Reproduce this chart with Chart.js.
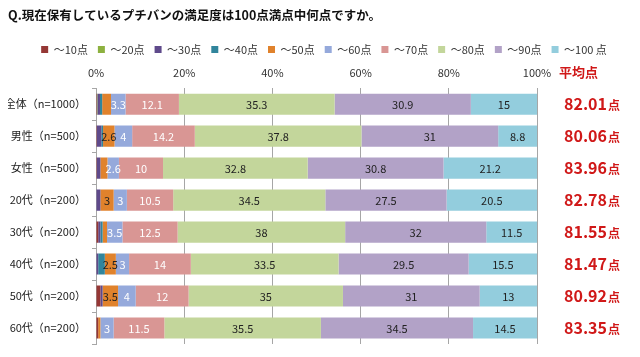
<!DOCTYPE html>
<html><head><meta charset="utf-8">
<script src="https://cdn.jsdelivr.net/npm/chart.js@4/dist/chart.umd.min.js"></script>
<style>html,body{margin:0;padding:0;background:#fff;}canvas{display:block;}</style>
</head><body>
<canvas id="c" width="640" height="357"></canvas>
<script>
const categories = ['全体（n=1000）','男性（n=500）','女性（n=500）','20代（n=200）','30代（n=200）','40代（n=200）','50代（n=200）','60代（n=200）'];
const seriesLabels = ['～10点','～20点','～30点','～40点','～50点','～60点','～70点','～80点','～90点','～100 点'];
const s10  = [0.2, 0.2, 0.2, 0,   0.5, 0,   1.0, 0.5];
const s20  = [0.1, 0,   0,   0,   0,   0,   0,   0];
const s30  = [0.6, 1.0, 0.8, 1.0, 0.5, 0.5, 0.5, 0];
const s40  = [0.5, 0.4, 0,   0,   0.5, 1.5, 0,   0];
const s50  = [2.0, 2.6, 1.6, 3,   1.0, 2.5, 3.5, 0.5];
const s60  = [3.3, 4,   2.6, 3,   3.5, 3,   4,   3];
const s70  = [12.1,14.2,10,  10.5,12.5,14,  12,  11.5];
const s80  = [35.3,37.8,32.8,34.5,38,  33.5,35,  35.5];
const s90  = [30.9,31,  30.8,27.5,32,  29.5,31,  34.5];
const s100 = [15,  8.8, 21.2,20.5,11.5,15.5,13,  14.5];
const averages = ['82.01','80.06','83.96','82.78','81.55','81.47','80.92','83.35'];
const xTicks = [0,20,40,60,80,100];

const seriesValues = [s10,s20,s30,s40,s50,s60,s70,s80,s90,s100];
const colors = ['#953735','#8DB13F','#5F4A8B','#31859C','#E0822C','#95A9DB','#D99694','#C3D69B','#B2A2C7','#93CDDD'];
const labelColors = ['#222','#222','#222','#222','#222','#fff','#fff','#222','#222','#222'];
const FONT = '"Noto Sans CJK JP","Noto Sans",sans-serif';
const RED = '#D01818';

const barLabels = {
  id:'barLabels',
  afterDatasetsDraw(chart){
    const ctx = chart.ctx;
    ctx.save();
    ctx.font = '11px ' + FONT;
    ctx.textAlign = 'center';
    ctx.textBaseline = 'middle';
    chart.data.datasets.forEach((ds,di)=>{
      const meta = chart.getDatasetMeta(di);
      meta.data.forEach((el,i)=>{
        const v = ds.data[i];
        if (v >= 2.5) {
          const p = el.getCenterPoint();
          ctx.fillStyle = labelColors[di];
          ctx.fillText(String(v), p.x, p.y + 1);
        }
      });
    });
    ctx.restore();
  }
};

const avgPlugin = {
  id:'avgPlugin',
  afterDraw(chart){
    const ctx = chart.ctx;
    const y = chart.scales.y;
    ctx.save();
    ctx.fillStyle = RED;
    ctx.textBaseline = 'middle';
    ctx.textAlign = 'left';
    ctx.font = 'bold 13px ' + FONT;
    ctx.fillText('平均点', 559, 72);
    averages.forEach((a,i)=>{
      const py = y.getPixelForValue(i);
      ctx.font = 'bold 16px ' + FONT;
      ctx.fillText(a, 564, py);
      const w = ctx.measureText(a).width;
      ctx.font = 'bold 12px ' + FONT;
      ctx.fillText('点', 564 + w + 1, py + 1);
    });
    ctx.restore();
  }
};

new Chart(document.getElementById('c'), {
  type:'bar',
  data:{
    labels: categories,
    datasets: seriesValues.map((d,i)=>({
      label: seriesLabels[i],
      data: d,
      backgroundColor: colors[i],
      borderWidth: 0,
      barPercentage: 0.66,
      categoryPercentage: 1.0
    }))
  },
  options:{
    responsive:false,
    animation:false,
    indexAxis:'y',
    layout:{padding:{left:8,right:0,top:4,bottom:13}},
    plugins:{
      title:{display:true,text:'Q.現在保有しているプチバンの満足度は100点満点中何点ですか。',align:'start',
        color:'#111',font:{family:FONT,size:12.5,weight:'bold'},padding:{top:4,bottom:11}},
      legend:{position:'top',align:'center',
        labels:{boxWidth:7,boxHeight:7,padding:10,color:'#333',font:{family:FONT,size:11}}},
      tooltip:{enabled:false}
    },
    scales:{
      x:{stacked:true,min:0,max:100,position:'top',
        afterBuildTicks(s){ s.ticks = xTicks.map(v=>({value:v})); },
        afterFit(s){ s.height -= 8; },
        ticks:{callback:v=>v+'%',color:'#333',font:{family:FONT,size:11},padding:9},
        grid:{color:'#a6a6a6',drawTicks:false},
        border:{display:false}},
      y:{stacked:true,
        afterFit(s){ s.width = 88; },
        ticks:{color:'#222',font:{family:FONT,size:11},padding:6},
        grid:{drawOnChartArea:false,offset:true,tickLength:4,color:'#a6a6a6'},
        border:{display:true,color:'#a6a6a6'}},
      yr:{type:'category',position:'right',display:true,
        afterFit(s){ s.width = 103; },
        ticks:{display:false},
        grid:{display:false,drawTicks:false},
        border:{display:false}}
    }
  },
  plugins:[barLabels, avgPlugin]
});
</script>
</body></html>
